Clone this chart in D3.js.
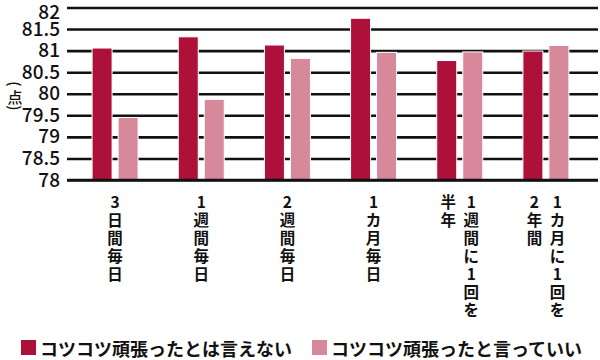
<!DOCTYPE html>
<html>
<head>
<meta charset="utf-8">
<script src="https://cdn.jsdelivr.net/npm/d3@7"></script>
<style>
  body { margin: 0; background: #fff; }
  svg { display: block; font-family: "Noto Sans CJK JP", "Noto Sans", sans-serif; }
</style>
</head>
<body>
<div id="wrapper"></div>
<script>
// 各グループのラベル（縦書き、1行目が右の列）
const categories = [
  ["3日間毎日"],
  ["1週間毎日"],
  ["2週間毎日"],
  ["1カ月毎日"],
  ["1週間に1回を", "半年"],
  ["1カ月に1回を", "2年間"],
];
const seriesNames = ["コツコツ頑張ったとは言えない", "コツコツ頑張ったと言っていい"];
const notDone = [81.06, 81.32, 81.13, 81.75, 80.77, 80.99];
const didWell = [79.45, 79.87, 80.82, 80.96, 80.97, 81.12];
const yTicks = [78, 78.5, 79, 79.5, 80, 80.5, 81, 81.5, 82];
const unitLabel = ["(", "点", ")"];

function drawChart() {
  const dimensions = { width: 600, height: 360 };
  const plot = { left: 67, right: 598, top: 7.5, bottom: 180 };

  const svg = d3
    .select("#wrapper")
    .append("svg")
    .attr("width", dimensions.width)
    .attr("height", dimensions.height);

  const keys = categories.map((_, i) => i);
  const rows = keys.map((i) => ({ key: i, values: [notDone[i], didWell[i]] }));

  const x0 = d3
    .scaleBand()
    .domain(keys)
    .range([72, 589])
    .paddingInner(0.466)
    .paddingOuter(0.233);

  const x1 = d3
    .scaleBand()
    .domain([0, 1])
    .range([0, x0.bandwidth()])
    .paddingInner(0.2308);

  const y = d3.scaleLinear().domain([78, 82]).range([plot.bottom, plot.top]);

  const color = d3.scaleOrdinal().domain([0, 1]).range(["#ad1038", "#d8889b"]);

  // 目盛り線とラベル
  const axis = svg
    .append("g")
    .attr("transform", `translate(${plot.right},0)`)
    .call(
      d3
        .axisLeft(y)
        .tickValues(yTicks)
        .tickSize(plot.right - plot.left)
        .tickPadding(7)
        .tickFormat((d) => d)
    );
  axis.select(".domain").remove();
  axis.selectAll(".tick line").attr("stroke", "#111").attr("stroke-width", 2.6);
  axis
    .selectAll(".tick text")
    .attr("fill", "#111")
    .attr("font-size", 19)
    .attr("font-weight", 500)
    .attr("font-family", '"Noto Sans CJK JP", sans-serif')
    .attr("dy", (d) => (d === 82 ? "0.6em" : "0.32em"));

  // 棒
  svg
    .append("g")
    .selectAll("g")
    .data(rows)
    .enter()
    .append("g")
    .attr("transform", (d) => `translate(${x0(d.key)},0)`)
    .selectAll("rect")
    .data((d) => d.values.map((v, s) => ({ s, v })))
    .enter()
    .append("rect")
    .attr("x", (d) => x1(d.s))
    .attr("width", x1.bandwidth())
    .attr("y", (d) => y(d.v))
    .attr("height", (d) => y(78) - y(d.v))
    .attr("fill", (d) => color(d.s))
    .attr("stroke", "#fff")
    .attr("stroke-width", 1);

  // 軸線（下端）
  svg
    .append("line")
    .attr("x1", plot.left)
    .attr("x2", plot.right)
    .attr("y1", y(78))
    .attr("y2", y(78))
    .attr("stroke", "#111")
    .attr("stroke-width", 2.6);

  // 縦書きのカテゴリラベル
  const colGap = 23;
  const charStep = 18;
  const labels = svg.append("g").attr("fill", "#111").attr("font-size", 15.5).attr("font-weight", 700);
  categories.forEach((lines, i) => {
    const cx = x0(i) + x0.bandwidth() / 2;
    lines.forEach((line, li) => {
      const lx = cx + ((lines.length - 1) / 2 - li) * colGap;
      Array.from(line).forEach((ch, j) => {
        labels
          .append("text")
          .attr("x", lx)
          .attr("y", 201 + j * charStep)
          .attr("text-anchor", "middle")
          .attr("dominant-baseline", "central")
          .text(ch);
      });
    });
  });

  // 単位（縦書き、括弧は90度回転）
  const unitY = [84, 96, 108];
  unitLabel.forEach((ch, i) => {
    const t = svg
      .append("text")
      .attr("fill", "#111")
      .attr("font-size", 15)
      .attr("font-weight", 500)
      .attr("text-anchor", "middle")
      .attr("dominant-baseline", "central")
      .text(ch);
    if (i === 1) {
      t.attr("x", 15).attr("y", unitY[i]);
    } else {
      t.attr("transform", `translate(15,${unitY[i]}) rotate(90)`);
    }
  });

  // 凡例
  const legendX = [21, 312];
  const legend = svg
    .append("g")
    .selectAll("g")
    .data(seriesNames)
    .enter()
    .append("g")
    .attr("transform", (_, i) => `translate(${legendX[i]},340)`);
  legend
    .append("rect")
    .attr("width", 15)
    .attr("height", 15)
    .attr("fill", (_, i) => color(i));
  legend
    .append("text")
    .attr("x", 19)
    .attr("y", 8)
    .attr("dominant-baseline", "central")
    .attr("fill", "#111")
    .attr("font-size", 18)
    .attr("font-weight", 700)
    .text((d) => d);
}

drawChart();
</script>
</body>
</html>
